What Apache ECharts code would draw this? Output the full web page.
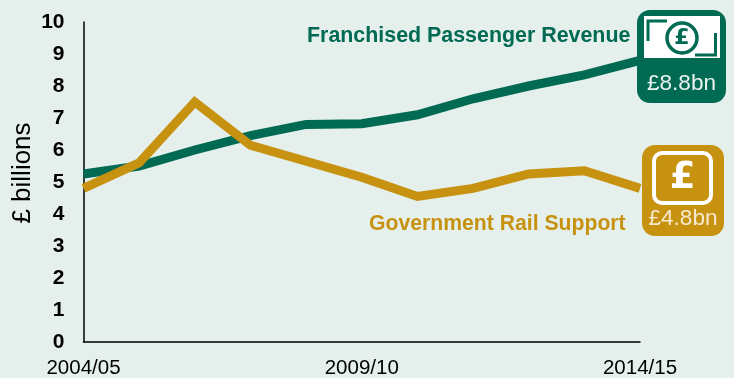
<!DOCTYPE html>
<html>
<head>
<meta charset="utf-8">
<style>html,body{margin:0;padding:0;background:#e5efeb}#c{width:734px;height:378px}</style>
<script src="https://cdn.jsdelivr.net/npm/echarts@6/dist/echarts.min.js"></script>
</head>
<body>
<div id="c"></div>
<script>
const years = ['2004/05','2005/06','2006/07','2007/08','2008/09','2009/10','2010/11','2011/12','2012/13','2013/14','2014/15'];
const passengerRevenue = [5.25,5.5,6.0,6.45,6.8,6.82,7.1,7.6,8.0,8.35,8.8];
const railSupport = [4.8,5.6,7.5,6.15,5.65,5.15,4.55,4.8,5.25,5.35,4.8];
const GREEN = '#006a53';
const GOLD = '#c89211';
const INK = '#000';
const FONT = '"Liberation Sans", Arial, sans-serif';
const SIGN_FONT = '"DejaVu Sans", sans-serif';

const seriesOf = (name, data, color) => ({
  name, data, type: 'line', symbol: 'none', silent: true,
  lineStyle: { color, width: 9, join: 'miter' }, clip: false
});

const text = (x, y, str, fill, size, weight, align, family) => ({
  type: 'text', x, y, z: 20,
  style: { text: str, fill, fontFamily: family || FONT, fontSize: size, fontWeight: weight || 'normal', align: align || 'center', verticalAlign: 'middle' }
});

echarts.init(document.getElementById('c'), null, { renderer: 'canvas' }).setOption({
  animation: false,
  backgroundColor: '#e5efeb',
  grid: { left: 83.5, right: 94, top: 22, bottom: 36, containLabel: false, outerBoundsMode: 'none' },
  xAxis: {
    type: 'category', data: years, boundaryGap: false,
    axisTick: { show: false },
    axisLine: { lineStyle: { color: INK, width: 1.5 } },
    axisLabel: { interval: 4, color: INK, fontFamily: FONT, fontSize: 20.5, margin: 16, showMinLabel: true, showMaxLabel: true }
  },
  yAxis: {
    type: 'value', min: 0, max: 10, interval: 1,
    splitLine: { show: false }, axisTick: { show: false },
    axisLine: { show: true, lineStyle: { color: INK, width: 1.5 } },
    axisLabel: { color: INK, fontFamily: FONT, fontSize: 21, fontWeight: 'bold', margin: 19 }
  },
  series: [
    seriesOf('Franchised Passenger Revenue', passengerRevenue, GREEN),
    seriesOf('Government Rail Support', railSupport, GOLD)
  ],
  graphic: [
    { ...text(0, 0, '£ billions', INK, 26), x: 23, y: 173, rotation: Math.PI / 2 },
    text(307, 36, 'Franchised Passenger Revenue', GREEN, 21.4, 'bold', 'left'),
    text(369, 224, 'Government Rail Support', GOLD, 21.2, 'bold', 'left'),

    // revenue badge: banknote with pound sign
    { type: 'rect', z: 10, shape: { x: 637, y: 10, width: 89, height: 93, r: 13 }, style: { fill: GREEN } },
    { type: 'rect', z: 11, shape: { x: 644, y: 16, width: 76, height: 42 }, style: { fill: '#fff' } },
    { type: 'circle', z: 12, shape: { cx: 682, cy: 38, r: 15 }, style: { fill: '#fff', stroke: GREEN, lineWidth: 3.5 } },
    { type: 'polyline', z: 12, shape: { points: [[648, 41], [648, 21], [667, 21]] }, style: { fill: 'none', stroke: GREEN, lineWidth: 3 } },
    { type: 'polyline', z: 12, shape: { points: [[715.5, 33], [715.5, 55], [695, 55]] }, style: { fill: 'none', stroke: GREEN, lineWidth: 3 } },
    text(682, 38, '£', GREEN, 22, 'bold', 'center', SIGN_FONT),
    text(681.5, 84, '£8.8bn', '#e9f2ee', 22.6),

    // support badge: framed pound sign
    { type: 'rect', z: 10, shape: { x: 642, y: 145, width: 82, height: 91, r: 13 }, style: { fill: GOLD } },
    { type: 'rect', z: 11, shape: { x: 654, y: 153, width: 57, height: 50, r: 8 }, style: { fill: GOLD, stroke: '#fff', lineWidth: 4 } },
    text(682.5, 178, '£', '#fff', 37, 'bold', 'center', SIGN_FONT),
    text(683, 219, '£4.8bn', '#f5ead0', 22.6)
  ]
});
</script>
</body>
</html>
